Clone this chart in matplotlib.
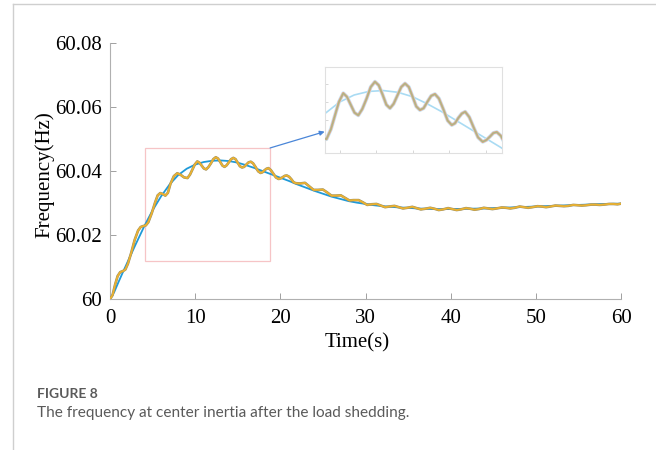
import matplotlib
matplotlib.use("Agg")
import matplotlib.pyplot as plt
from matplotlib.patches import Rectangle
from matplotlib.lines import Line2D
import matplotlib.patheffects as pe

# ---------------- data ----------------
blue_t = [0, 0.5, 1, 1.5, 2, 2.5, 3, 3.5, 4, 4.5, 5, 6, 7, 8, 9, 10, 11, 12, 13, 14,
          15, 16, 17, 18, 19, 20, 21, 22, 23, 24, 25, 26, 27, 28, 29, 30, 31, 32, 33,
          34, 35, 36, 37, 38, 39, 40, 42, 44, 46, 48, 50, 52, 54, 56, 58, 60]
blue_f = [60.0000, 60.0022, 60.0053, 60.0083, 60.0112, 60.0141, 60.0170, 60.0198,
          60.0226, 60.0252, 60.0277, 60.0321, 60.0358, 60.0387, 60.0407, 60.0420,
          60.0428, 60.0432, 60.0433, 60.0431, 60.0426, 60.0418, 60.0409, 60.0399,
          60.0389, 60.0379, 60.0369, 60.0358, 60.0348, 60.0338, 60.0329, 60.0320,
          60.0313, 60.0306, 60.0301, 60.0297, 60.0293, 60.0290, 60.0288, 60.0286,
          60.0285, 60.0283, 60.0282, 60.0281, 60.0281, 60.0281, 60.0282, 60.0283,
          60.0285, 60.0287, 60.0289, 60.0291, 60.0293, 60.0295, 60.0297, 60.0298]

osc_t = [0.0, 0.3, 0.6, 0.9, 1.2, 1.5, 1.8, 2.1, 2.5, 2.9, 3.3, 3.6, 3.9, 4.2, 4.5,
         4.9, 5.3, 5.6, 5.9, 6.2, 6.5, 6.8, 7.1, 7.5, 7.9, 8.3, 8.7, 9.1, 9.4, 9.68,
         9.95, 10.25, 10.5, 10.76, 11.02, 11.28, 11.55, 11.85, 12.13, 12.42, 12.68,
         12.93, 13.2, 13.45, 13.7, 13.95, 14.22, 14.48, 14.74, 15.0, 15.25, 15.5,
         15.75, 16.0, 16.27, 16.53, 16.8, 17.1, 17.4, 17.68, 17.9, 18.13, 18.37, 18.6,
         18.88, 19.16, 19.48, 19.8, 20.05, 20.3, 20.53, 20.76, 21.03, 21.3, 21.55,
         21.8, 22.3, 22.9, 23.4, 23.9, 24.4, 25.0, 25.5, 26.0, 26.5, 27.1, 27.6, 28.1,
         28.6, 29.2, 29.7, 30.2, 30.7, 31.3, 31.8, 32.3, 32.8, 33.4, 33.9, 34.4, 34.9,
         35.5, 36.0, 36.5, 37.0, 37.6, 38.1, 38.6, 39.1, 39.7, 40.2, 40.7, 41.2, 41.8,
         42.3, 42.8, 43.3, 43.9, 44.4, 44.9, 45.4, 46.0, 46.5, 47.0, 47.5, 48.1, 48.6,
         49.1, 49.6, 50.2, 50.7, 51.2, 51.7, 52.3, 52.8, 53.3, 53.8, 54.4, 54.9, 55.4,
         55.9, 56.5, 57.0, 57.5, 58.0, 58.6, 59.1, 59.6, 60.0]
osc_f = [60.0000, 60.0012, 60.0045, 60.0072, 60.0084, 60.0087, 60.0092, 60.0110,
         60.0145, 60.0185, 60.0214, 60.0225, 60.0228, 60.0230, 60.0240, 60.0268,
         60.0302, 60.0324, 60.0331, 60.0328, 60.0323, 60.0332, 60.0360, 60.0384,
         60.0393, 60.0388, 60.0380, 60.0378, 60.0389, 60.0405, 60.0420, 60.0430,
         60.0426, 60.0417, 60.0408, 60.0405, 60.0412, 60.0424, 60.0437, 60.0443,
         60.0439, 60.0429, 60.0417, 60.0413, 60.0418, 60.0427, 60.0437, 60.0441,
         60.0437, 60.0426, 60.0415, 60.0411, 60.0413, 60.0420, 60.0427, 60.0429,
         60.0424, 60.0412, 60.0399, 60.0394, 60.0396, 60.0402, 60.0407, 60.0409,
         60.0403, 60.0392, 60.0380, 60.0375, 60.0377, 60.0381, 60.0385, 60.0386,
         60.0382, 60.0374, 60.0365, 60.0362, 60.0361, 60.0363, 60.0352, 60.0341,
         60.0341, 60.0342, 60.0333, 60.0323, 60.0323, 60.0324, 60.0316, 60.0308,
         60.0309, 60.0309, 60.0302, 60.0294, 60.0296, 60.0297, 60.0292, 60.0287,
         60.0289, 60.0291, 60.0287, 60.0283, 60.0285, 60.0288, 60.0284, 60.0280,
         60.0282, 60.0285, 60.0282, 60.0278, 60.0280, 60.0284, 60.0281, 60.0278,
         60.0280, 60.0284, 60.0282, 60.0279, 60.0281, 60.0285, 60.0283, 60.0281,
         60.0283, 60.0286, 60.0285, 60.0283, 60.0285, 60.0289, 60.0287, 60.0285,
         60.0287, 60.0290, 60.0289, 60.0287, 60.0289, 60.0292, 60.0291, 60.0290,
         60.0291, 60.0294, 60.0293, 60.0292, 60.0293, 60.0295, 60.0295, 60.0294,
         60.0295, 60.0297, 60.0297, 60.0296, 60.0298]

x_ticks = [0, 10, 20, 30, 40, 50, 60]
x_labels = ["0", "10", "20", "30", "40", "50", "60"]
y_ticks = [60.0, 60.02, 60.04, 60.06, 60.08]
y_labels = ["60", "60.02", "60.04", "60.06", "60.08"]
inset_xticks = [10, 12.5, 15, 17.5, 20]
inset_yticks = [60.038, 60.040, 60.042, 60.044]

zoom_box = (4.1, 60.0119, 18.8, 60.0472)   # t0, f0, t1, f1
arrow_end = (25.2, 60.0523)

x_label = "Time(s)"
y_label = "Frequency(Hz)"
caption_1 = "FIGURE 8"
caption_2 = "The frequency at center inertia after the load shedding."

# ---------------- figure ----------------
W, H = 656, 450
fig = plt.figure(figsize=(W / 100, H / 100), dpi=100)
serif = ["Liberation Serif", "DejaVu Serif"]

ax = fig.add_axes([110 / W, 1 - 299 / H, (621 - 110) / W, (299 - 43) / H])
ax.plot(blue_t, blue_f, color="#1f9ad8", lw=1.3, zorder=2)
ax.plot(osc_t, osc_f, color="#ebb230", lw=1.3, zorder=3,
        path_effects=[pe.Stroke(linewidth=1.9, foreground="#968e6a"), pe.Normal()])
ax.set_xlim(0, 60)
ax.set_ylim(60.0, 60.08)
ax.set_xticks(x_ticks)
ax.set_xticklabels(x_labels, fontfamily=serif, fontsize=15)
ax.set_yticks(y_ticks)
ax.set_yticklabels(y_labels, fontfamily=serif, fontsize=15)
for s in ["top", "right"]:
    ax.spines[s].set_visible(False)
for s in ["left", "bottom"]:
    ax.spines[s].set_color("#b0b0b0")
    ax.spines[s].set_linewidth(0.8)
ax.tick_params(direction="in", length=4, width=0.7, color="#a0a0a0")
ax.tick_params(axis="x", pad=7)
ax.tick_params(axis="y", pad=6)
ax.set_xlabel(x_label, fontfamily=serif, fontsize=15)
ax.set_ylabel(y_label, fontfamily=serif, fontsize=15)
ax.xaxis.set_label_coords((357 - 110) / (621 - 110), -(343 - 299) / (299 - 43), transform=ax.transAxes)
ax.yaxis.set_label_coords(-(110 - 45) / (621 - 110), (299 - 175) / (299 - 43), transform=ax.transAxes)
ax.xaxis.label.set_va("center")
ax.yaxis.label.set_va("center")

t0, f0, t1, f1 = zoom_box
ax.add_patch(Rectangle((t0, f0), t1 - t0, f1 - f0, fill=False,
                       edgecolor="#f6c4c6", lw=0.9, zorder=1))
ax.annotate("", xy=arrow_end, xytext=(t1, f1),
            arrowprops=dict(arrowstyle="-|>", color="#4a86d8", lw=0.9,
                            mutation_scale=7, shrinkA=0, shrinkB=0))

# ---------------- inset ----------------
axi = fig.add_axes([325 / W, 1 - 153.3 / H, (501.7 - 325) / W, (153.3 - 66.7) / H])
axi.plot(blue_t, blue_f, color="#a9dbf3", lw=1.2, zorder=2)
axi.plot(osc_t, osc_f, color="#c6e7f7", lw=2.8, zorder=3)
axi.plot(osc_t, osc_f, color="#f0a585", lw=1.8, zorder=4)
axi.plot(osc_t, osc_f, color="#a3b98a", lw=0.9, zorder=5)
axi.set_xlim(9.0, 21.1)
axi.set_ylim(60.0362, 60.0460)
axi.set_xticks(inset_xticks)
axi.set_yticks(inset_yticks)
axi.set_xticklabels([])
axi.set_yticklabels([])
axi.tick_params(direction="in", length=2.5, width=0.5, color="#c8c8c8")
for s in axi.spines.values():
    s.set_color("#e0e0e0")
    s.set_linewidth(0.8)

# ---------------- page frame and caption ----------------
fig.add_artist(Line2D([13 / W, 13 / W], [0, 1 - 4 / H], transform=fig.transFigure,
                      color="#cfcfcf", lw=1.0))
fig.add_artist(Line2D([13 / W, 1], [1 - 4 / H, 1 - 4 / H], transform=fig.transFigure,
                      color="#cfcfcf", lw=1.0))
fig.text(37 / W, 1 - 394 / H, caption_1, fontfamily=["Lato", "DejaVu Sans"],
         fontsize=10, fontweight="bold", color="#5a5a5a", va="center", ha="left")
fig.text(37 / W, 1 - 413 / H, caption_2, fontfamily=["Lato", "DejaVu Sans"],
         fontsize=11.1, color="#5a5a5a", va="center", ha="left")

fig.savefig("out.png", dpi=100)
